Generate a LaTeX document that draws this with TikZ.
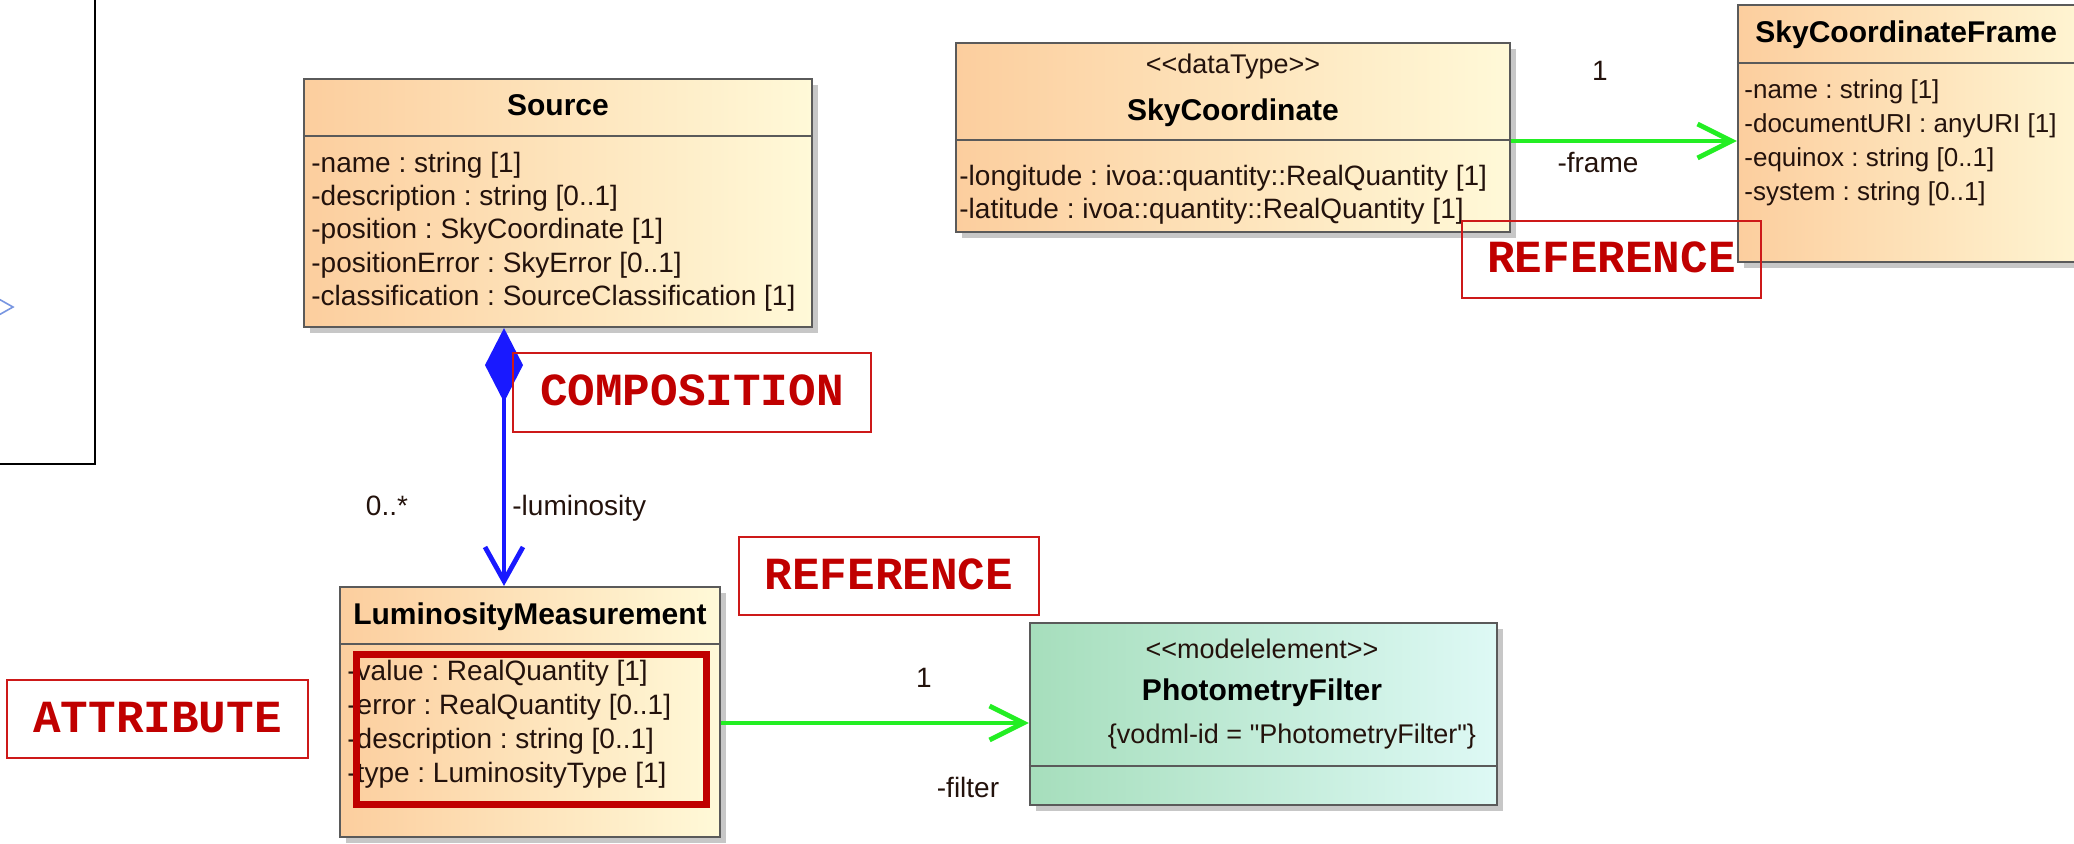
\documentclass[tikz,border=0pt]{standalone}
\usepackage{fontspec}
\setmainfont{Liberation Sans}[Ligatures=TeXOff]
\newfontfamily\notefont{Liberation Mono}
\usetikzlibrary{arrows.meta,shadows,fit}
\frenchspacing

\definecolor{classL}{RGB}{252,206,158}
\definecolor{classR}{RGB}{255,249,216}
\definecolor{elemL}{RGB}{166,222,188}
\definecolor{elemR}{RGB}{222,249,245}
\definecolor{boxline}{RGB}{90,90,90}
\definecolor{ink}{RGB}{35,18,12}
\definecolor{notered}{RGB}{192,0,0}
\definecolor{noteline}{RGB}{205,25,25}
\definecolor{compblue}{RGB}{25,25,255}
\definecolor{refgreen}{RGB}{35,238,35}
\definecolor{chevblue}{RGB}{120,150,225}

\tikzset{
  umlbox/.style={draw=boxline, line width=1.1pt, inner sep=0pt,
    drop shadow={shadow xshift=3pt, shadow yshift=-3pt, opacity=0.4, fill=black!55}},
  classfill/.style={left color=classL, right color=classR},
  elemfill/.style={left color=elemL, right color=elemR},
  compart/.style={draw=boxline, line width=1.1pt},
  attr/.style={anchor=west, inner sep=0pt, text=ink,
    font=\fontsize{14}{16}\selectfont, text height=10pt, text depth=0pt},
  narrowattr/.style={attr, font=\fontsize{13}{15}\selectfont, text height=9.3pt},
  classname/.style={inner sep=0pt, text=black,
    font=\fontsize{15}{18}\selectfont\bfseries, text height=10.7pt, text depth=0pt},
  stereo/.style={inner sep=0pt, text=ink,
    font=\fontsize{13.5}{16}\selectfont, text height=9.7pt, text depth=0pt},
  endlabel/.style={inner sep=0pt, text=ink,
    font=\fontsize{14}{16}\selectfont, text height=10pt, text depth=0pt},
  notebox/.style={draw=noteline, line width=0.9pt, inner sep=0pt},
  notetext/.style={inner sep=0pt, text=notered,
    font=\fontsize{23}{26}\notefont\bfseries, text height=13pt, text depth=0pt},
  highlight/.style={draw=notered, line width=3.5pt, inner sep=0pt},
  composition/.style={draw=compblue, line width=2.4pt,
    {Diamond[length=37pt,width=19pt]}-{Straight Barb[length=17pt,width=19pt]}},
  reference/.style={draw=refgreen, line width=2.4pt,
    -{Straight Barb[length=17pt,width=17pt]}},
}

\begin{document}
\begin{tikzpicture}[x=0.5pt, y=-0.5pt]
\useasboundingbox (0,0) rectangle (2074,843);

% package frame reaching in from the left
\node[draw=black, line width=1.2pt, fill=white, inner sep=0pt,
      fit={(-20,-20) (95,464)}] (pkg) {};
\draw[draw=chevblue, line width=0.8pt] (-3,298) -- (13,307) -- (-3,316);

% ---------------- Source
\node[umlbox, classfill, fit={(304,79) (812,327)}] (src) {};
\draw[compart] (src.west |- 0,136) -- (src.east |- 0,136);
\node[classname] (srcName) at (558,105) {Source};
\node[attr] (srcA1) at (311,162) {-name : string [1]};
\node[attr] (srcA2) at (311,195) {-description : string [0..1]};
\node[attr] (srcA3) at (311,228) {-position : SkyCoordinate [1]};
\node[attr] (srcA4) at (311,262) {-positionError : SkyError [0..1]};
\node[attr] (srcA5) at (311,295) {-classification : SourceClassification [1]};

% ---------------- SkyCoordinate
\node[umlbox, classfill, fit={(956,43) (1510,232)}] (sky) {};
\draw[compart] (sky.west |- 0,140) -- (sky.east |- 0,140);
\node[stereo] (skySt) at (1233,64) {{<}{<}dataType{>}{>}};
\node[classname] (skyName) at (1233,110) {SkyCoordinate};
\node[attr] (skyA1) at (959,175) {-longitude : ivoa::quantity::RealQuantity [1]};
\node[attr] (skyA2) at (959,208) {-latitude : ivoa::quantity::RealQuantity [1]};

% ---------------- SkyCoordinateFrame
\node[umlbox, classfill, fit={(1738,5) (2120,262)}] (frame) {};
\draw[compart] (frame.west |- 0,63) -- (frame.east |- 0,63);
\node[classname, anchor=west] (frameName) at (1755,32) {SkyCoordinateFrame};
\node[narrowattr] (frameA1) at (1744,89) {-name : string [1]};
\node[narrowattr] (frameA2) at (1744,123) {-documentURI : anyURI [1]};
\node[narrowattr] (frameA3) at (1744,157) {-equinox : string [0..1]};
\node[narrowattr] (frameA4) at (1744,191) {-system : string [0..1]};

% ---------------- LuminosityMeasurement
\node[umlbox, classfill, fit={(340,587) (720,837)}] (lm) {};
\draw[compart] (lm.west |- 0,644) -- (lm.east |- 0,644);
\node[classname] (lmName) at (530,614) {LuminosityMeasurement};
\node[attr] (lmA1) at (347,670) {-value : RealQuantity [1]};
\node[attr] (lmA2) at (347,704) {-error : RealQuantity [0..1]};
\node[attr] (lmA3) at (347,738) {-description : string [0..1]};
\node[attr] (lmA4) at (347,772) {-type : LuminosityType [1]};

% ---------------- PhotometryFilter
\node[umlbox, elemfill, fit={(1030,623) (1497,805)}] (pf) {};
\draw[compart] (pf.west |- 0,766) -- (pf.east |- 0,766);
\node[stereo] (pfSt) at (1262,649) {{<}{<}modelelement{>}{>}};
\node[classname] (pfName) at (1262,690) {PhotometryFilter};
\node[stereo] (pfTag) at (1292,734) {\{vodml-id = "PhotometryFilter"\}};

% ---------------- associations
\coordinate (compx) at (504,0);
\draw[composition] (src.south -| compx) -- (lm.north -| compx);
\node[endlabel] (mulLum) at (387,505) {0..*};
\node[endlabel, anchor=west] (roleLum) at (512,505) {-luminosity};

\coordinate (frameRow) at (0,141);
\draw[reference] (sky.east |- frameRow) -- (frame.west |- frameRow);
\node[endlabel] (mulFrame) at (1600,70) {1};
\node[endlabel] (roleFrame) at (1598,162) {-frame};

\coordinate (filterRow) at (0,723);
\draw[reference] (lm.east |- filterRow) -- (pf.west |- filterRow);
\node[endlabel] (mulFilter) at (924,677) {1};
\node[endlabel] (roleFilter) at (968,787) {-filter};

% ---------------- callouts
\node[highlight, fit={(356,654) (706,804)}] (attrMark) {};

\node[notebox, fit={(513,353) (871,432)}] (noteComp) {};
\node[notetext] at (noteComp.center) {COMPOSITION};

\node[notebox, fit={(739,537) (1039,615)}] (noteRef1) {};
\node[notetext] at (noteRef1.center) {REFERENCE};

\node[notebox, fit={(1462,221) (1761,298)}] (noteRef2) {};
\node[notetext] at (noteRef2.center) {REFERENCE};

\node[notebox, fit={(7,680) (308,758)}] (noteAttr) {};
\node[notetext] at (noteAttr.center) {ATTRIBUTE};
\end{tikzpicture}
\end{document}
